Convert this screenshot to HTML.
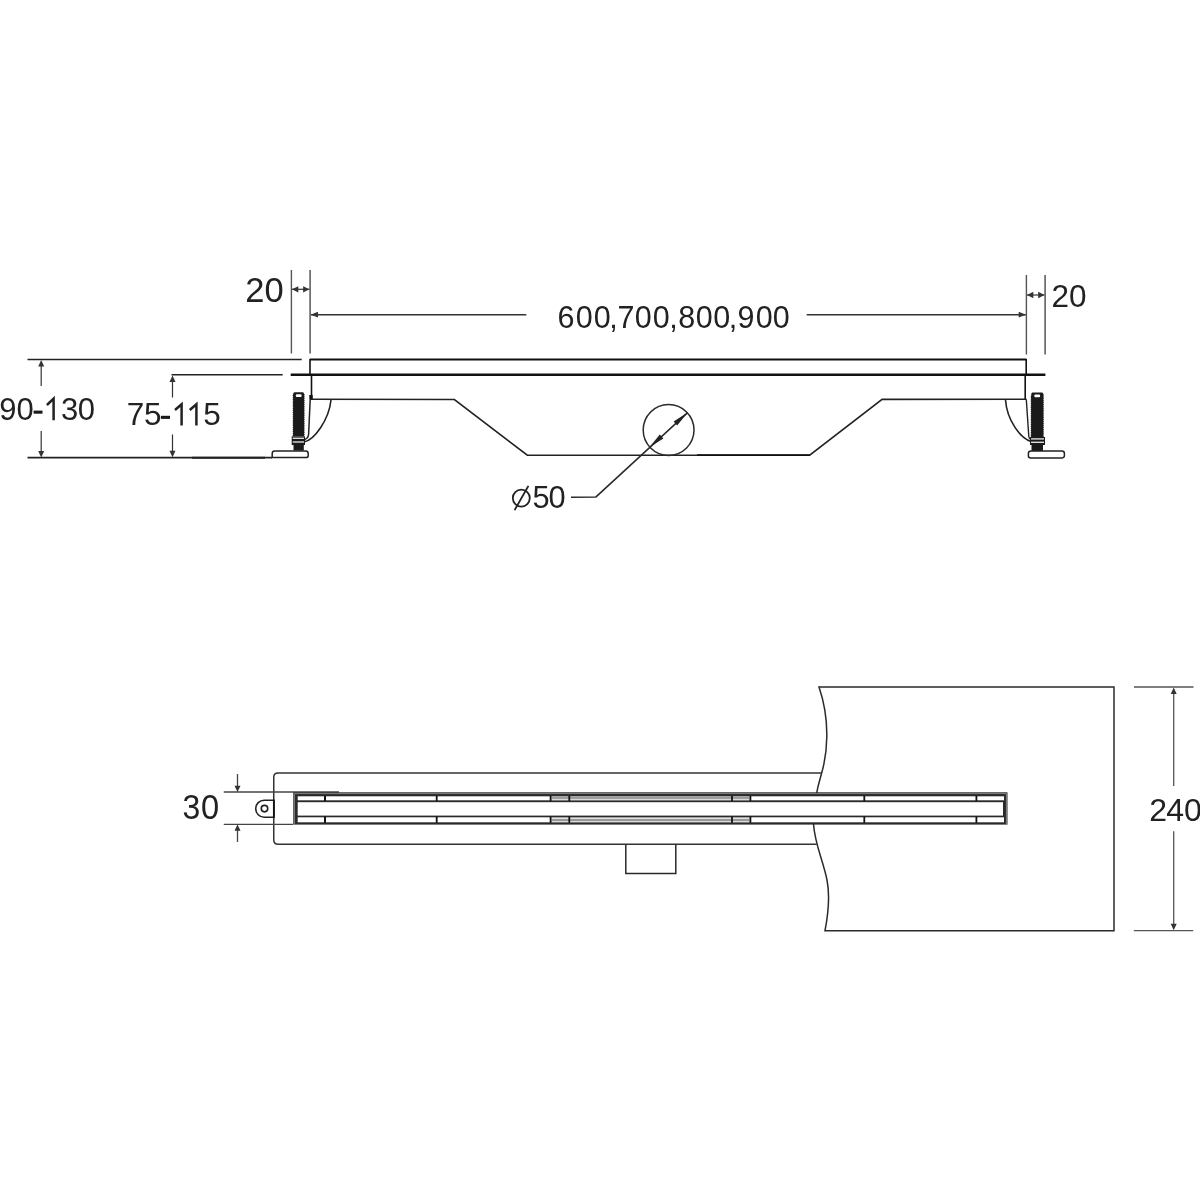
<!DOCTYPE html>
<html><head><meta charset="utf-8">
<style>
html,body{margin:0;padding:0;background:#fff;width:1200px;height:1200px;overflow:hidden}
svg{display:block;will-change:transform}
text{font-family:"Liberation Sans",sans-serif;fill:#222}
</style></head>
<body>
<svg width="1200" height="1200" viewBox="0 0 1200 1200">
<rect width="1200" height="1200" fill="#fff"/>

<!-- ===== TOP VIEW ===== -->
<g stroke="#555" stroke-width="1.4" fill="none">
  <line x1="291.4" y1="270" x2="291.4" y2="353.5"/>
  <line x1="310.1" y1="270" x2="310.1" y2="353.5" stroke-width="1.5"/>
  <line x1="1026.4" y1="275" x2="1026.4" y2="354.5"/>
  <line x1="1045.1" y1="275" x2="1045.1" y2="354.5" stroke-width="1.5"/>
</g>
<!-- small double arrows -->
<g stroke="#333" stroke-width="1.2" fill="#333">
  <line x1="292" y1="289.3" x2="309.4" y2="289.3"/>
  <path d="M292,289.3 L298.3,286.2 L298.3,292.4 Z" stroke="none"/>
  <path d="M309.4,289.3 L303.1,286.2 L303.1,292.4 Z" stroke="none"/>
  <line x1="1027" y1="295" x2="1044.4" y2="295"/>
  <path d="M1027,295 L1033.3,291.8 L1033.3,298.2 Z" stroke="none"/>
  <path d="M1044.5,295 L1038.2,291.8 L1038.2,298.2 Z" stroke="none"/>
</g>
<!-- long dimension line -->
<g stroke="#333" stroke-width="1.4" fill="#333">
  <line x1="311" y1="314.7" x2="526.3" y2="314.7"/>
  <line x1="806.7" y1="314.7" x2="1025.8" y2="314.7"/>
  <path d="M310.7,314.7 L318,311.8 L318,317.6 Z" stroke="none"/>
  <path d="M1026,314.7 L1018.7,311.8 L1018.7,317.6 Z" stroke="none"/>
</g>

<!-- body lines -->
<g stroke="#111" fill="none">
  <line x1="310" y1="359.5" x2="1026.5" y2="359.5" stroke-width="2"/>
  <line x1="290.7" y1="374.7" x2="1045.4" y2="374.7" stroke-width="2.5"/>
  <line x1="310" y1="359" x2="310" y2="375" stroke-width="1.6"/><line x1="311.5" y1="375" x2="311.5" y2="399.5" stroke-width="1.6"/>
  <line x1="1026.2" y1="359" x2="1026.2" y2="375" stroke-width="1.6"/><line x1="1025.2" y1="375" x2="1025.2" y2="399.5" stroke-width="1.6"/>
</g>
<g stroke="#222" fill="none" stroke-width="1.6">
  <line x1="27.5" y1="359.5" x2="301.7" y2="359.5"/>
  <line x1="171.5" y1="374.8" x2="282.7" y2="374.8"/>
  <polyline points="310,399.3 454.4,399.5 527.3,455.2 809.7,455.2 882.1,399.4 1026.5,399.3"/>
  <line x1="27.5" y1="457.6" x2="272" y2="457.6"/>
  <line x1="192" y1="457.7" x2="265" y2="457.7" stroke-width="1.9" stroke="#222"/>
</g>
<line x1="697" y1="455.2" x2="809.7" y2="455.2" stroke="#111" stroke-width="1.8"/>

<!-- circle + leader -->
<g stroke="#2a2a2a" fill="none" stroke-width="1.5">
  <circle cx="668.6" cy="430" r="25.4"/>
  <polyline points="571,497.3 596,496.9 687.6,412.6"/>
</g>
<g fill="#222">
  <path d="M687.6,412.6 L673.6,421.4 L677.2,425.4 Z"/>
  <path d="M649.4,447.2 L663.4,438.4 L659.8,434.4 Z"/>
</g>

<!-- left foot -->
<g>
  <path d="M294.50,392.30 H302.80 Q304.00,392.30 304.00,393.80 L304.80,394.80 L304.00,395.75 L304.80,396.70 L304.00,397.65 L304.80,398.60 L304.00,399.55 L304.80,400.50 L304.00,401.45 L304.80,402.40 L304.00,403.35 L304.80,404.30 L304.00,405.25 L304.80,406.20 L304.00,407.15 L304.80,408.10 L304.00,409.05 L304.80,410.00 L304.00,410.95 L304.80,411.90 L304.00,412.85 L304.80,413.80 L304.00,414.75 L304.80,415.70 L304.00,416.65 L304.80,417.60 L304.00,418.55 L304.80,419.50 L304.00,420.45 L304.80,421.40 L304.00,422.35 L304.80,423.30 L304.00,424.25 L304.80,425.20 L304.00,426.15 L304.80,427.10 L304.00,428.05 L304.80,429.00 L304.00,429.95 L304.80,430.90 L304.00,431.85 L304.80,432.80 L304.00,433.75 L304.80,434.70 L304.00,435.65 L304.00,436.30 H293.30 L292.50,435.35 L293.30,434.40 L292.50,433.45 L293.30,432.50 L292.50,431.55 L293.30,430.60 L292.50,429.65 L293.30,428.70 L292.50,427.75 L293.30,426.80 L292.50,425.85 L293.30,424.90 L292.50,423.95 L293.30,423.00 L292.50,422.05 L293.30,421.10 L292.50,420.15 L293.30,419.20 L292.50,418.25 L293.30,417.30 L292.50,416.35 L293.30,415.40 L292.50,414.45 L293.30,413.50 L292.50,412.55 L293.30,411.60 L292.50,410.65 L293.30,409.70 L292.50,408.75 L293.30,407.80 L292.50,406.85 L293.30,405.90 L292.50,404.95 L293.30,404.00 L292.50,403.05 L293.30,402.10 L292.50,401.15 L293.30,400.20 L292.50,399.25 L293.30,398.30 L292.50,397.35 L293.30,396.40 L292.50,395.45 L293.30,393.80 Q293.30,392.30 294.50,392.30 Z" fill="#1a1a1a"/>
  <rect x="295.8" y="394.3" width="5.8" height="2.8" rx="1" fill="#fff"/>
  <rect x="291.7" y="436.3" width="13.3" height="8.7" fill="#1a1a1a"/>
  <rect x="292.7" y="437.6" width="11.3" height="1.4" fill="#ddd"/>
  <rect x="292.7" y="441.3" width="11.3" height="1.4" fill="#ddd"/>
  <rect x="293.5" y="445" width="10.3" height="5.6" fill="#1a1a1a"/>
  <path d="M272.2,457.6 V453.6 Q272.2,451 274.8,451 H305.6 Q308.2,451 308.2,453.6 V455.4 Q308.2,457.6 306,457.6 Z" fill="#fff" stroke="#222" stroke-width="1.5"/>
  <rect x="309.3" y="395" width="3.4" height="4.5" fill="#111"/>
  <path d="M310.2,399.5 L308.6,434.5 Q308,438.5 304.8,439.5" stroke="#222" stroke-width="1.5" fill="none"/>
  <path d="M331,400 C329,420 314,440 304.5,441.7" stroke="#222" stroke-width="1.6" fill="none"/>
</g>
<!-- right foot -->
<g>
  <path d="M1032.50,392.50 H1042.00 Q1043.20,392.50 1043.20,394.00 L1044.00,395.00 L1043.20,395.95 L1044.00,396.90 L1043.20,397.85 L1044.00,398.80 L1043.20,399.75 L1044.00,400.70 L1043.20,401.65 L1044.00,402.60 L1043.20,403.55 L1044.00,404.50 L1043.20,405.45 L1044.00,406.40 L1043.20,407.35 L1044.00,408.30 L1043.20,409.25 L1044.00,410.20 L1043.20,411.15 L1044.00,412.10 L1043.20,413.05 L1044.00,414.00 L1043.20,414.95 L1044.00,415.90 L1043.20,416.85 L1044.00,417.80 L1043.20,418.75 L1044.00,419.70 L1043.20,420.65 L1044.00,421.60 L1043.20,422.55 L1044.00,423.50 L1043.20,424.45 L1044.00,425.40 L1043.20,426.35 L1044.00,427.30 L1043.20,428.25 L1044.00,429.20 L1043.20,430.15 L1044.00,431.10 L1043.20,432.05 L1044.00,433.00 L1043.20,433.95 L1044.00,434.90 L1043.20,435.85 L1044.00,436.80 L1043.20,437.00 H1031.30 L1030.50,436.05 L1031.30,435.10 L1030.50,434.15 L1031.30,433.20 L1030.50,432.25 L1031.30,431.30 L1030.50,430.35 L1031.30,429.40 L1030.50,428.45 L1031.30,427.50 L1030.50,426.55 L1031.30,425.60 L1030.50,424.65 L1031.30,423.70 L1030.50,422.75 L1031.30,421.80 L1030.50,420.85 L1031.30,419.90 L1030.50,418.95 L1031.30,418.00 L1030.50,417.05 L1031.30,416.10 L1030.50,415.15 L1031.30,414.20 L1030.50,413.25 L1031.30,412.30 L1030.50,411.35 L1031.30,410.40 L1030.50,409.45 L1031.30,408.50 L1030.50,407.55 L1031.30,406.60 L1030.50,405.65 L1031.30,404.70 L1030.50,403.75 L1031.30,402.80 L1030.50,401.85 L1031.30,400.90 L1030.50,399.95 L1031.30,399.00 L1030.50,398.05 L1031.30,397.10 L1030.50,396.15 L1031.30,395.20 L1031.30,394.00 Q1031.30,392.50 1032.50,392.50 Z" fill="#1a1a1a"/>
  <rect x="1034.3" y="394.5" width="5.8" height="2.8" rx="1" fill="#fff"/>
  <rect x="1030" y="437" width="15" height="8" fill="#1a1a1a"/>
  <rect x="1031" y="438.2" width="13" height="1.4" fill="#ddd"/>
  <rect x="1031" y="441.6" width="13" height="1.4" fill="#ddd"/>
  <rect x="1031.5" y="445" width="11.5" height="6" fill="#1a1a1a"/>
  <path d="M1028.4,456 V453.4 Q1028.4,450.9 1030.9,450.9 H1061.9 Q1064.4,450.9 1064.4,453.4 V455.6 Q1064.4,457.9 1062.1,457.9 H1030.6 Q1028.4,457.9 1028.4,456 Z" fill="#fff" stroke="#222" stroke-width="1.5"/>
  <path d="M1026.3,399.5 L1028.8,436.5 Q1029.2,439 1031,439.5" stroke="#222" stroke-width="1.4" fill="none"/>
  <path d="M1005.5,400 C1007,420 1020,438 1031,441.5" stroke="#222" stroke-width="1.6" fill="none"/>
</g>

<!-- left vertical dims -->
<g stroke="#333" stroke-width="1.2" fill="#333">
  <line x1="41.2" y1="362" x2="41.2" y2="386"/>
  <line x1="41.2" y1="431" x2="41.2" y2="455"/>
  <path d="M41.2,360 L38.2,366.5 L44.2,366.5 Z" stroke="none"/>
  <path d="M41.2,457.5 L38.2,451 L44.2,451 Z" stroke="none"/>
  <line x1="172.5" y1="377" x2="172.5" y2="397.5"/>
  <line x1="172.5" y1="434.5" x2="172.5" y2="455"/>
  <path d="M172.5,375.5 L169.5,382 L175.5,382 Z" stroke="none"/>
  <path d="M172.5,457.2 L169.5,450.7 L175.5,450.7 Z" stroke="none"/>
</g>

<!-- texts top view -->
<text x="245.2 264.45" y="301.9" font-size="34.5">20</text>
<text x="1051.5 1069" y="307.1" font-size="31.5">20</text>
<text x="557.45 575.8 593.8 609.25 617.43 634.8 652.8 669.25 678.17 695.8 713.3 728.75 737.57 755.8 772.8" y="327.5" font-size="30.5">600,700,800,900</text>
<text x="-0.7 16.54" y="420.3" font-size="31">90</text>
<rect x="33.6" y="410.6" width="8.9" height="3.1" fill="#1a1a1a"/>
<polyline points="46.9,405 53.6,398.6 53.6,420.3" fill="none" stroke="#222" stroke-width="2.5"/>
<text x="60.92 77.8" y="420.3" font-size="31">30</text>
<text x="126.7 144.1" y="425.4" font-size="31.5">75</text>
<rect x="160.9" y="415.8" width="9.1" height="3.1" fill="#1a1a1a"/>
<polyline points="175,410 181.6,404.2 181.6,425.4" fill="none" stroke="#222" stroke-width="2.5"/>
<polyline points="189.75,410 196.4,404.2 196.4,425.4" fill="none" stroke="#222" stroke-width="2.5"/>
<text x="203.3" y="425.4" font-size="31.5">5</text>
<circle cx="521.3" cy="498.1" r="8.5" fill="none" stroke="#222" stroke-width="1.8"/>
<line x1="515" y1="509.4" x2="528" y2="486.6" stroke="#222" stroke-width="1.9" stroke-linecap="round"/>
<text x="532.4 548.6" y="508.3" font-size="30.8">50</text>

<!-- ===== BOTTOM VIEW ===== -->
<!-- channel -->
<path d="M821.5,772.9 H278 Q273.75,772.9 273.75,777.1 V840 Q273.75,844.2 278,844.2 H816.7" stroke="#333" stroke-width="1.5" fill="none"/>
<!-- tab -->
<path d="M274,800.2 H264.2 A8.5,8.5 0 0 0 264.2,817.2 H274" stroke="#222" stroke-width="1.6" fill="#fff"/>
<line x1="273.9" y1="799.6" x2="273.9" y2="817.9" stroke="#111" stroke-width="1.9"/>
<circle cx="264.5" cy="808.6" r="3.25" stroke="#222" stroke-width="1.6" fill="none"/>
<!-- outlet -->
<path d="M625.8,844.2 V873.5 H675.8 V844.2" stroke="#2a2a2a" stroke-width="1.5" fill="none"/>

<!-- big rect with wavy edge -->
<path d="M819,687 H1114 V930.7 H825 C828,915 830,895 827,880 C823,860 815,845 813.5,824 C813.2,808 817.1,788.3 821.5,773.5 C827,755 831,722 819,687 Z" stroke="#2a2a2a" stroke-width="1.5" fill="#fff"/>

<!-- 30 dims -->
<g stroke="#444" stroke-width="1.3" fill="#333">
  <line x1="223.75" y1="792" x2="339" y2="792"/>
  <line x1="223.75" y1="824.4" x2="293" y2="824.4"/>
  <line x1="237.5" y1="774" x2="237.5" y2="788"/>
  <line x1="237.5" y1="828" x2="237.5" y2="842"/>
  <path d="M237.5,792 L234.5,785.8 L240.5,785.8 Z" stroke="none"/>
  <path d="M237.5,824.6 L234.5,830.8 L240.5,830.8 Z" stroke="none"/>
</g>

<!-- grate -->
<g>
  <rect x="293.25" y="792.3" width="714.25" height="32.3" fill="#2a2a2a"/>
  <path d="M294.4,824 V793.6 H1006.4 V824" fill="none" stroke="#999" stroke-width="0.8"/>
  <rect x="297.7" y="796.3" width="706.3" height="4" fill="#fff"/>
  <rect x="297.7" y="802.2" width="705.3" height="13.4" fill="#fff"/>
  <rect x="297.7" y="817.3" width="706.3" height="5" fill="#fff"/>
  <rect x="551.5" y="796.3" width="198" height="4" fill="#9a9a9a"/><rect x="551.5" y="798.9" width="198" height="1" fill="#e0e0e0"/>
  <rect x="551.5" y="817.3" width="198" height="5" fill="#9a9a9a"/><rect x="551.5" y="818" width="198" height="1" fill="#e0e0e0"/><rect x="551.5" y="821" width="198" height="0.9" fill="#e0e0e0"/>
  <g fill="#111">
    <rect x="324" y="796" width="2" height="5"/><rect x="324" y="816.5" width="2" height="6.3"/>
    <rect x="435.8" y="796" width="1.8" height="5"/><rect x="435.8" y="816.5" width="1.8" height="6.3"/>
    <rect x="549.7" y="796" width="1.8" height="5"/><rect x="549.7" y="816.5" width="1.8" height="6.3"/>
    <rect x="568.4" y="796" width="1.8" height="5"/><rect x="568.4" y="816.5" width="1.8" height="6.3"/>
    <rect x="731.1" y="796" width="1.8" height="5"/><rect x="731.1" y="816.5" width="1.8" height="6.3"/>
    <rect x="749.5" y="796" width="1.8" height="5"/><rect x="749.5" y="816.5" width="1.8" height="6.3"/>
    <rect x="863.4" y="796" width="1.8" height="5"/><rect x="863.4" y="816.5" width="1.8" height="6.3"/>
    <rect x="975.5" y="796" width="1.8" height="5"/><rect x="975.5" y="816.5" width="1.8" height="6.3"/>
  </g>
</g>

<!-- 240 dims -->
<g stroke="#555" stroke-width="1.3" fill="#333">
  <line x1="1134" y1="687" x2="1193.5" y2="687"/>
  <line x1="1133.8" y1="930.7" x2="1193.2" y2="930.7"/>
  <line x1="1173.7" y1="692" x2="1173.7" y2="786"/>
  <line x1="1173.7" y1="831.2" x2="1173.7" y2="925"/>
  <path d="M1173.7,687.5 L1170.7,694 L1176.7,694 Z" stroke="none"/>
  <path d="M1173.7,930.2 L1170.7,923.7 L1176.7,923.7 Z" stroke="none"/>
</g>

<text transform="translate(183.75,819.3) scale(0.925,1.035)" x="-1.31" y="0" font-size="34.5">3</text><text transform="translate(202.3,819.3) scale(0.945,1.035)" x="-1.35" y="0" font-size="34.5">0</text>
<text x="1149.2 1166.3 1184" y="820.8" font-size="32">240</text>
</svg>
</body></html>
